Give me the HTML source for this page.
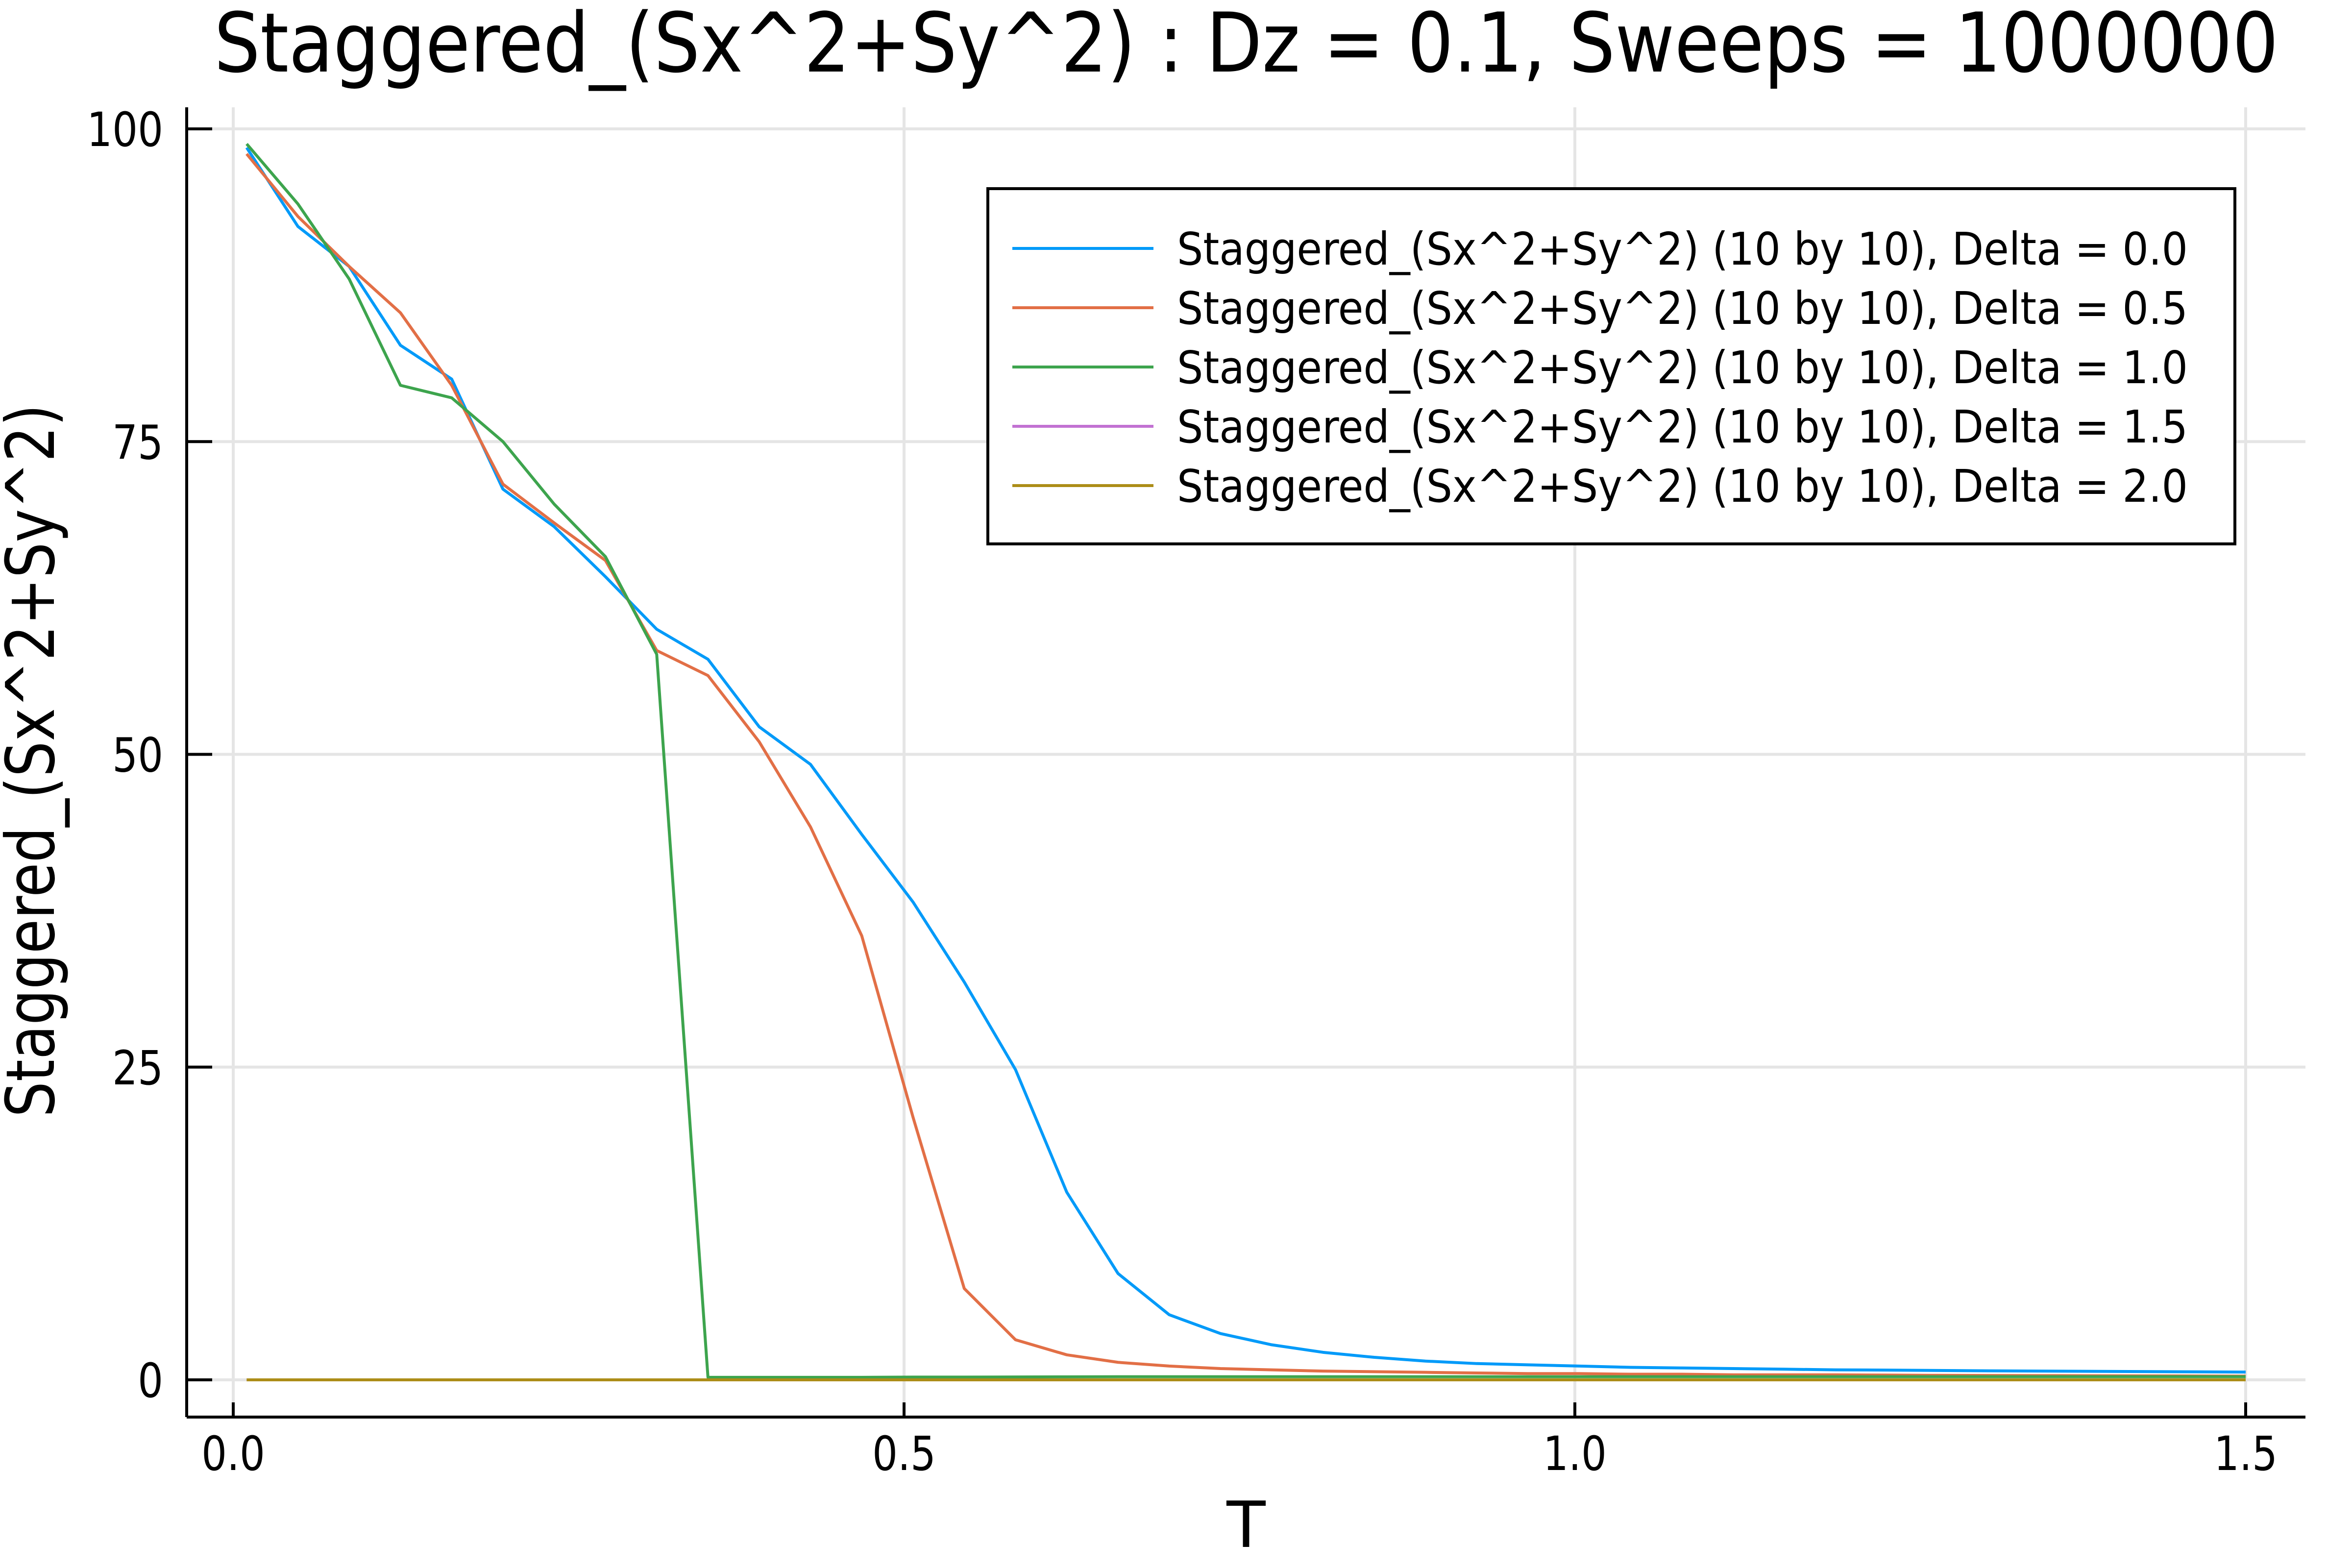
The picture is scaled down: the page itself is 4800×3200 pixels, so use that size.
<!DOCTYPE html>
<html><head><meta charset="utf-8"><style>
html,body{margin:0;padding:0;background:#fff}
svg{display:block;font-family:"DejaVu Sans","Liberation Sans",sans-serif}
</style></head><body>
<svg id="chart" width="4800" height="3200" viewBox="0 0 4800 3200" xmlns="http://www.w3.org/2000/svg">
<rect width="4800" height="3200" fill="#fff"/>
<text x="437" y="146" font-size="168" textLength="4213" lengthAdjust="spacingAndGlyphs" fill="#000">Staggered_(Sx^2+Sy^2) : Dz = 0.1, Sweeps = 1000000</text>
<g id="grid"></g>
<g id="axes"></g>
<g id="series"></g>
<text x="2543" y="3157" font-size="130" text-anchor="middle">T</text>
<text transform="translate(110,2280) rotate(-90)" font-size="137" textLength="1455" lengthAdjust="spacingAndGlyphs">Staggered_(Sx^2+Sy^2)</text>
<g id="legend"></g>
</svg>
<script>
const xTicks=[0.0,0.5,1.0,1.5];
const xTickLabels=["0.0","0.5","1.0","1.5"];
const yTicks=[0,25,50,75,100];
const yTickLabels=["0","25","50","75","100"];
const seriesNames=["Staggered_(Sx^2+Sy^2) (10 by 10), Delta = 0.0","Staggered_(Sx^2+Sy^2) (10 by 10), Delta = 0.5","Staggered_(Sx^2+Sy^2) (10 by 10), Delta = 1.0","Staggered_(Sx^2+Sy^2) (10 by 10), Delta = 1.5","Staggered_(Sx^2+Sy^2) (10 by 10), Delta = 2.0"];
const seriesColors=["#009af9","#e26f46","#3da44d","#c271d2","#ac8d18"];
const delta00=[98.5,92.2,89,82.7,80,71.2,68.2,64.2,60,57.6,52.2,49.2,43.6,38.2,31.8,24.8,15,8.5,5.2,3.7,2.8,2.2,1.8,1.5,1.3,1.2,1.1,1.0,0.95,0.9,0.85,0.8,0.78,0.75,0.72,0.7,0.68,0.66,0.64,0.62];
const delta05=[98,93,89,85.3,79.5,71.6,68.5,65.5,58.3,56.3,51,44.2,35.5,21,7.3,3.2,2,1.4,1.1,0.9,0.8,0.7,0.65,0.6,0.55,0.5,0.5,0.45,0.45,0.4,0.4,0.4,0.38,0.36,0.35,0.34,0.33,0.32,0.31,0.3];
const delta10=[98.8,94,88,79.5,78.5,75,70,65.8,58,0.2,0.2,0.2,0.2,0.22,0.22,0.23,0.24,0.25,0.25,0.25,0.25,0.25,0.25,0.25,0.25,0.25,0.25,0.25,0.25,0.25,0.25,0.25,0.25,0.25,0.25,0.25,0.25,0.25,0.25,0.25];
const delta15=[0,0,0,0,0,0,0,0,0,0,0,0,0,0,0,0,0,0,0,0,0,0,0,0,0,0,0,0,0,0,0,0,0,0,0,0,0,0,0,0];
const delta20=[0,0,0,0,0,0,0,0,0,0,0,0,0,0,0,0,0,0,0,0,0,0,0,0,0,0,0,0,0,0,0,0,0,0,0,0,0,0,0,0];
const tValues=delta00.map((_,i)=>0.01+i*(1.49/39));
const allSeries=[delta00,delta05,delta10,delta15,delta20];

const NS="http://www.w3.org/2000/svg";
const X0=476,X1=4583,Y0=2816,Y1=263;
const xs=v=>X0+(v-0)/(1.5-0)*(X1-X0);
const ys=v=>Y0-(v-0)/(100-0)*(Y0-Y1);
const L=381,R=4705,T=219,B=2892;
function mk(tag,attrs,parent){const e=document.createElementNS(NS,tag);for(const k in attrs)e.setAttribute(k,attrs[k]);parent.appendChild(e);return e;}
const grid=document.getElementById('grid'),axes=document.getElementById('axes');
xTicks.forEach((t,i)=>{
  const g=mk('line',{x1:xs(t),x2:xs(t),y1:T,y2:B,stroke:'#e5e5e5','stroke-width':6},grid);
  
  
  const tk=mk('line',{x1:xs(t),x2:xs(t),y1:B,y2:B-30,stroke:'#000','stroke-width':6},axes);
  
  
  const lb=mk('text',{transform:'translate('+xs(t)+',3000) scale(0.85,1)','font-size':96,'text-anchor':'middle'},axes);
  lb.textContent=xTickLabels[i];
  
  
});
yTicks.forEach((t,i)=>{
  const g=mk('line',{x1:L,x2:R,y1:ys(t),y2:ys(t),stroke:'#e5e5e5','stroke-width':6},grid);
  
  
  const tk=mk('line',{x1:L,x2:L+52,y1:ys(t),y2:ys(t),stroke:'#000','stroke-width':6},axes);
  
  
  const lb=mk('text',{transform:'translate(333,'+(ys(t)+35)+') scale(0.85,1)','font-size':96,'text-anchor':'end'},axes);
  lb.textContent=yTickLabels[i];
  
  
});
const ax1=mk('line',{x1:L,x2:L,y1:T,y2:B,stroke:'#000','stroke-width':6},axes);


const ax2=mk('line',{x1:L,x2:R,y1:B,y2:B,stroke:'#000','stroke-width':6},axes);


const sg=document.getElementById('series');
allSeries.forEach((s,k)=>{
  const p=mk('polyline',{points:s.map((v,i)=>xs(tValues[i])+','+ys(v)).join(' '),fill:'none',stroke:seriesColors[k],'stroke-width':6,'stroke-linejoin':'round'},sg);
  
  
});
const lg=document.getElementById('legend');
const box=mk('rect',{x:2016,y:385,width:2545,height:725,fill:'#fff',stroke:'#000','stroke-width':6},lg);


seriesNames.forEach((n,k)=>{
  const y=507+k*121;
  const ln=mk('line',{x1:2066,x2:2354,y1:y,y2:y,stroke:seriesColors[k],'stroke-width':6},lg);
  
  
  const t=mk('text',{x:2402,y:y+33,'font-size':92,textLength:2063,lengthAdjust:'spacingAndGlyphs'},lg);
  t.textContent=n;
  
  
});
</script>
</body></html>
